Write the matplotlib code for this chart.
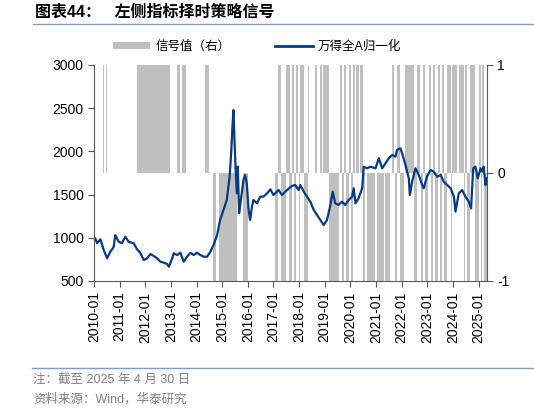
import matplotlib

matplotlib.use("Agg")
import matplotlib.pyplot as plt
from matplotlib.lines import Line2D
from matplotlib.patches import Patch

plt.rcParams["font.family"] = ["Liberation Sans", "Noto Sans CJK SC", "DejaVu Sans"]

# 万得全A归一化 (fractional years)
index_years = [
    2010.00, 2010.05, 2010.12, 2010.25, 2010.38, 2010.51, 2010.64, 2010.77, 2010.83, 2010.96,
    2011.09, 2011.22, 2011.35, 2011.55, 2011.68, 2011.81, 2011.94, 2012.07, 2012.20, 2012.33,
    2012.46, 2012.59, 2012.72, 2012.85, 2012.92, 2013.05, 2013.11, 2013.24, 2013.37, 2013.50,
    2013.63, 2013.76, 2013.89, 2014.02, 2014.15, 2014.29, 2014.41, 2014.54, 2014.67, 2014.80,
    2014.92, 2015.05, 2015.18, 2015.29, 2015.35, 2015.40, 2015.44, 2015.48, 2015.52, 2015.57,
    2015.61, 2015.66, 2015.73, 2015.83, 2015.90, 2015.96, 2016.03, 2016.09, 2016.16, 2016.22,
    2016.36, 2016.48, 2016.61, 2016.75, 2016.88, 2017.00, 2017.20, 2017.33, 2017.53, 2017.72,
    2017.85, 2017.98, 2018.05, 2018.18, 2018.31, 2018.44, 2018.57, 2018.70, 2018.83, 2018.96,
    2019.09, 2019.22, 2019.31, 2019.41, 2019.54, 2019.67, 2019.80, 2019.93, 2020.07, 2020.13,
    2020.20, 2020.32, 2020.46, 2020.52, 2020.65, 2020.78, 2020.98, 2021.11, 2021.24, 2021.37,
    2021.50, 2021.63, 2021.76, 2021.82, 2021.95, 2022.02, 2022.15, 2022.28, 2022.32, 2022.41,
    2022.54, 2022.67, 2022.80, 2022.86, 2022.99, 2023.13, 2023.25, 2023.39, 2023.52, 2023.64,
    2023.78, 2023.91, 2024.04, 2024.10, 2024.23, 2024.36, 2024.49, 2024.62, 2024.71, 2024.79,
    2024.88, 2024.97, 2025.08, 2025.14, 2025.20, 2025.27, 2025.33,
]
index_values = [
    1000, 994, 937, 983, 859, 763, 839, 897, 1032, 955,
    936, 1013, 955, 936, 867, 821, 743, 763, 812, 789,
    763, 723, 712, 697, 665, 763, 821, 800, 827, 723,
    781, 827, 800, 827, 800, 781, 781, 839, 920, 1030,
    1206, 1322, 1437, 1707, 1978, 2286, 2479, 2132, 1823, 1515,
    1823, 1284, 1437, 1669, 1727, 1631, 1322, 1206, 1360, 1437,
    1399, 1476, 1476, 1515, 1561, 1495, 1553, 1495, 1553, 1600,
    1611, 1553, 1611, 1534, 1476, 1418, 1322, 1264, 1206, 1148,
    1206, 1380, 1534, 1399, 1380, 1418, 1380, 1437, 1476, 1573,
    1399, 1457, 1573, 1823, 1804, 1823, 1804, 1920, 1804, 1862,
    1920, 1958, 1939, 2016, 2036, 1978, 1843, 1689, 1495, 1650,
    1804, 1727, 1611, 1573, 1707, 1785, 1765, 1707, 1727, 1650,
    1611, 1573, 1476, 1303, 1515, 1553, 1476, 1418, 1341, 1804,
    1823, 1689, 1804, 1765, 1823, 1611, 1689,
]

# 信号值 periods: start, end, value
signal_start = [
    2010.34, 2010.47, 2011.67, 2013.25, 2013.45, 2014.34, 2014.66, 2014.86, 2015.60, 2015.81,
    2017.07, 2017.16, 2017.30, 2017.50, 2017.59, 2017.72, 2017.81, 2017.89, 2017.98, 2018.05,
    2018.18, 2018.33, 2018.63, 2018.83, 2018.93, 2019.15, 2019.58, 2019.67, 2019.74, 2019.84,
    2019.94, 2020.03, 2020.10, 2020.23, 2020.39, 2020.49, 2020.65, 2021.04, 2021.30, 2021.37,
    2021.63, 2021.76, 2021.82, 2021.95, 2022.15, 2022.47, 2022.60, 2022.76, 2022.84, 2022.93,
    2023.06, 2023.15, 2023.23, 2023.32, 2023.41, 2023.49, 2023.58, 2023.67, 2023.78, 2023.91,
    2023.97, 2024.23, 2024.43, 2024.49, 2024.56, 2024.66, 2024.88, 2025.01, 2025.08, 2025.14,
    2025.21,
]
signal_end = [
    2010.39, 2010.52, 2012.97, 2013.36, 2013.58, 2014.49, 2014.77, 2015.57, 2015.62, 2015.99,
    2017.16, 2017.29, 2017.50, 2017.66, 2017.72, 2017.79, 2017.89, 2017.94, 2018.05, 2018.18,
    2018.33, 2018.39, 2018.70, 2018.89, 2019.15, 2019.54, 2019.67, 2019.74, 2019.84, 2019.94,
    2020.03, 2020.10, 2020.20, 2020.33, 2020.49, 2020.59, 2020.98, 2021.30, 2021.32, 2021.56,
    2021.70, 2021.82, 2021.93, 2022.11, 2022.47, 2022.58, 2022.73, 2022.84, 2022.93, 2023.02,
    2023.13, 2023.23, 2023.32, 2023.41, 2023.49, 2023.58, 2023.65, 2023.78, 2023.91, 2023.97,
    2024.17, 2024.43, 2024.49, 2024.56, 2024.66, 2024.88, 2025.01, 2025.08, 2025.14, 2025.21,
    2025.33,
]
signal_value = [
    1, 1, 1, 1, 1, 1, -1, -1, -1, -1,
    -1, 1, -1, 1, -1, 1, -1, 1, -1, 1,
    -1, 1, 1, 1, 1, -1, 1, -1, 1, -1,
    1, -1, 1, 1, 1, -1, -1, -1, 1, -1,
    1, -1, 1, -1, 1, -1, 1, -1, 1, -1,
    1, -1, 1, -1, 1, -1, 1, -1, 1, -1,
    1, 1, -1, 1, -1, 1, -1, 1, -1, 1,
    -1,
]

year_ticks = list(range(2010, 2026))
year_labels = [f"{y}-01" for y in year_ticks]

LINE_COLOR = "#073b80"
BAR_COLOR = "#bfbfbf"
AXIS_COLOR = "#595959"

fig = plt.figure(figsize=(5.34, 4.12), dpi=100)
ax = fig.add_axes([94 / 534, 1 - 281 / 412, (487 - 94) / 534, (281 - 65) / 412])
ax2 = ax.twinx()

widths = [e - s for s, e in zip(signal_start, signal_end)]
ax2.bar(signal_start, signal_value, width=widths, align="edge", color=BAR_COLOR, linewidth=0)
ax2.set_ylim(-1, 1)
ax2.set_yticks([-1, 0, 1])
ax2.set_yticklabels(["-1", "0", "1"])

ax.plot(index_years, index_values, color=LINE_COLOR, lw=1.6)
ax.set_ylim(500, 3000)
ax.set_yticks(range(500, 3001, 500))
ax.set_xlim(2010.0, 2025.33)
ax.set_xticks(year_ticks)
ax.set_xticklabels(year_labels, rotation=90)

ax.set_zorder(ax2.get_zorder() + 1)
ax.patch.set_visible(False)

for a in (ax, ax2):
    a.spines["top"].set_visible(False)
    for side in ("left", "bottom", "right"):
        a.spines[side].set_color(AXIS_COLOR)
        a.spines[side].set_linewidth(0.8)
    a.tick_params(colors="black", labelsize=10, length=4, width=0.8, direction="out")
    a.tick_params(axis="both", color=AXIS_COLOR)
ax.spines["right"].set_visible(False)
ax2.spines["left"].set_visible(False)
ax2.spines["bottom"].set_visible(False)

handles = [
    Patch(facecolor=BAR_COLOR, edgecolor="none"),
    Line2D([0], [0], color=LINE_COLOR, lw=2),
]
fig.legend(
    handles,
    ["信号值（右）", "万得全A归一化"],
    loc="center",
    bbox_to_anchor=(257 / 534, 1 - 47 / 412),
    ncol=2,
    frameon=False,
    fontsize=9,
    handlelength=3.0,
    handleheight=0.45,
    columnspacing=3.6,
    handletextpad=0.4,
)

fig.text(35 / 534, 1 - 12 / 412, "图表44：   左侧指标择时策略信号", fontsize=11.5, fontweight="bold", va="center", ha="left")
fig.add_artist(Line2D([33 / 534, 1.0], [1 - 24 / 412] * 2, color="#7f9cc2", lw=1))
fig.add_artist(Line2D([32 / 534, 1.0], [1 - 368 / 412] * 2, color="#7f9cc2", lw=1))
fig.text(33 / 534, 1 - 380 / 412, "注：截至 2025 年 4 月 30 日", fontsize=9, color="#808080", va="center")
fig.text(33 / 534, 1 - 399 / 412, "资料来源：Wind，华泰研究", fontsize=9, color="#808080", va="center")

fig.savefig("out.png", dpi=100)
